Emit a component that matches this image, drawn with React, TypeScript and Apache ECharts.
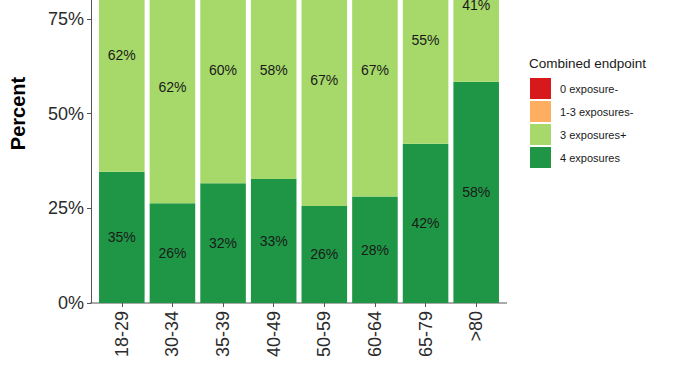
import React, { useEffect, useRef } from "react";
import * as echarts from "echarts";

const categories = ["18-29", "30-34", "35-39", "40-49", "50-59", "60-64", "65-79", ">80"];
const seriesNames = ["0 exposure-", "1-3 exposures-", "3 exposures+", "4 exposures"];
const fourExposures = [34.6, 26.3, 31.6, 32.7, 25.6, 28.1, 42.0, 58.4];
const threeExposuresPlus = [61.6, 61.6, 59.6, 57.6, 66.6, 66.6, 54.6, 40.6];
const oneToThreeMinus = [2.6, 8.1, 5.8, 6.5, 5.3, 3.5, 2.3, 0.7];
const zeroExposureMinus = [1.2, 4.0, 3.0, 3.2, 2.5, 1.8, 1.1, 0.3];
const yTickLabels = ["0%", "25%", "50%", "75%"]; // 100% lies above the visible crop
const colors = ["#D7191C", "#FDAE61", "#A6D96A", "#1F9645"];

const PAGE_W = 678;
const PAGE_H = 381;
const CROP_TOP = 80; // part of the chart above the visible page
const CHART_H = PAGE_H + CROP_TOP;
const AXIS_X = 90;
const AXIS_RIGHT = 507;
const PAD = 5.5;
const GRID_TOP = 4;
const GRID_BOTTOM = 78;
const FONT = "'Liberation Sans', Arial, sans-serif";

export default function App() {
  const ref = useRef<HTMLDivElement>(null);
  useEffect(() => {
    if (!ref.current) return;
    const chart = echarts.init(ref.current, undefined, { renderer: "svg" });
    const labelFmt = (p: any) => Math.round(p.value) + "%";
    const mkSeries = (name: string, data: number[], color: string, showLabel: boolean) => ({
      name,
      type: "bar",
      stack: "total",
      data,
      barCategoryGap: "10%",
      itemStyle: { color },
      label: {
        show: showLabel,
        position: "inside",
        formatter: labelFmt,
        color: "#1a1a1a",
        fontSize: 14,
        fontFamily: FONT,
      },
    });
    const xAxisY = CHART_H - GRID_BOTTOM;
    chart.setOption({
      animation: false,
      backgroundColor: "#fff",
      textStyle: { fontFamily: FONT },
      title: {
        text: "Combined endpoint",
        left: 529,
        top: CROP_TOP + 56,
        padding: 0,
        textStyle: { fontSize: 13.5, fontWeight: "normal", color: "#1a1a1a", fontFamily: FONT },
      },
      legend: {
        orient: "vertical",
        left: 530,
        top: CROP_TOP + 78,
        padding: 0,
        itemWidth: 21,
        itemHeight: 21,
        itemGap: 2,
        icon: "rect",
        data: seriesNames,
        textStyle: { fontSize: 11, color: "#1a1a1a", fontFamily: FONT, padding: [0, 0, 0, 4] },
      },
      grid: {
        left: AXIS_X + PAD,
        right: PAGE_W - AXIS_RIGHT + PAD,
        top: GRID_TOP,
        bottom: GRID_BOTTOM,
        containLabel: false,
      },
      xAxis: {
        type: "category",
        data: categories,
        axisLine: { show: false },
        axisTick: { show: true, alignWithLabel: true, length: 4, lineStyle: { color: "#555" } },
        axisLabel: { rotate: 90, margin: 8, fontSize: 18, color: "#2b2b2b", fontFamily: FONT },
      },
      yAxis: {
        type: "value",
        min: 0,
        max: 100,
        interval: 25,
        offset: PAD,
        name: "Percent",
        nameLocation: "middle",
        nameGap: 63,
        nameTextStyle: { fontSize: 20, fontWeight: "bold", color: "#000", fontFamily: FONT },
        axisLine: { show: true, lineStyle: { color: "#555" } },
        axisTick: { show: true, length: 4, lineStyle: { color: "#555" } },
        splitLine: { show: false },
        axisLabel: {
          formatter: (v: number, i: number) => yTickLabels[i] ?? "",
          margin: 7,
          fontSize: 18,
          color: "#2b2b2b",
          fontFamily: FONT,
        },
      },
      graphic: [
        {
          type: "line",
          shape: { x1: AXIS_X, y1: xAxisY, x2: AXIS_RIGHT, y2: xAxisY },
          style: { stroke: "#555", lineWidth: 1 },
          silent: true,
        },
      ],
      series: [
        mkSeries(seriesNames[3], fourExposures, colors[3], true),
        mkSeries(seriesNames[2], threeExposuresPlus, colors[2], true),
        mkSeries(seriesNames[1], oneToThreeMinus, colors[1], false),
        mkSeries(seriesNames[0], zeroExposureMinus, colors[0], false),
      ],
    });
    return () => chart.dispose();
  }, []);
  return (
    <div
      style={{
        position: "fixed",
        left: 0,
        top: 0,
        width: PAGE_W,
        height: PAGE_H,
        overflow: "hidden",
        background: "#fff",
      }}
    >
      <div
        ref={ref}
        style={{ position: "absolute", left: 0, top: -CROP_TOP, width: PAGE_W, height: CHART_H }}
      />
    </div>
  );
}
